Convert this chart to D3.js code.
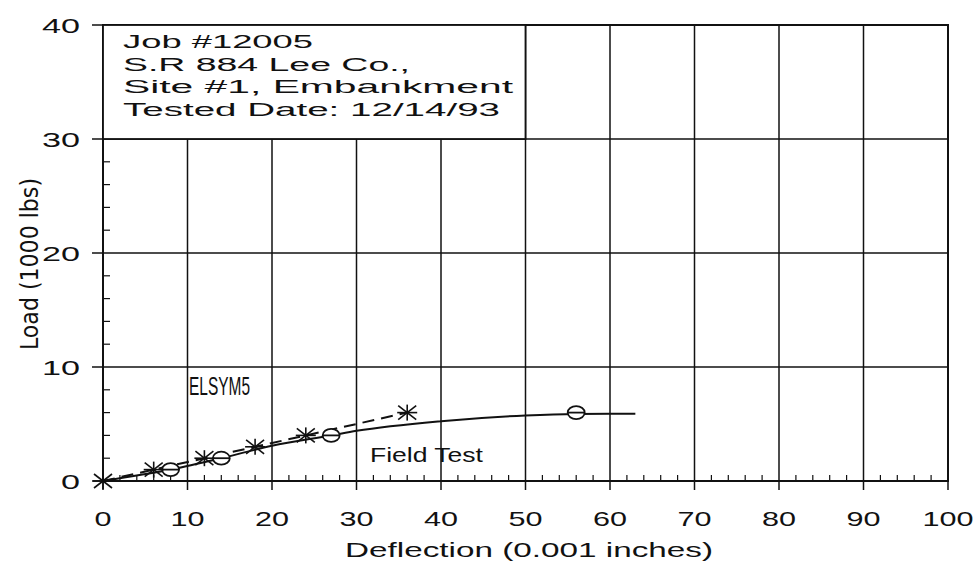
<!DOCTYPE html>
<html>
<head>
<meta charset="utf-8">
<script src="https://cdn.jsdelivr.net/npm/d3@7"></script>
<style>
  body { margin: 0; background: #fff; }
  svg { display: block; }
</style>
</head>
<body>
<div id="chart"></div>
<script>
  // ELSYM5 prediction (asterisks, dashed)
  var elsymX = [0, 6, 12, 18, 24, 36]
  var elsymY = [0, 1, 2, 3, 4, 6]

  // Field test points (circles)
  var fieldX = [8, 14, 27, 56]
  var fieldY = [1, 2, 4, 6]

  // Field test fitted curve (solid)
  var curveX = [0, 8, 14, 20, 27, 30, 40, 50, 56, 63]
  var curveY = [0, 1, 2, 3.1, 4, 4.4, 5.25, 5.75, 5.88, 5.9]

  var xTicks = [0, 10, 20, 30, 40, 50, 60, 70, 80, 90, 100]
  var yTicks = [0, 10, 20, 30, 40]

  var infoLines = ["Job #12005", "S.R 884 Lee Co.,", "Site #1, Embankment", "Tested Date: 12/14/93"]
  var infoWidths = [190, 287, 390, 377]

  var width = 974
  var height = 561

  var svg = d3.select("#chart")
    .append("svg")
    .attr("width", width)
    .attr("height", height)

  var x = d3.scaleLinear().domain([0, 100]).range([103, 948])
  var y = d3.scaleLinear().domain([0, 40]).range([481, 25])

  var wideFont = "'Liberation Sans', Arial, sans-serif"
  var narrowFont = "'Liberation Sans Narrow', 'DejaVu Sans Condensed', 'Liberation Sans', sans-serif"

  // minor ticks every 2 units
  var minorX = d3.range(0, 101, 2).filter(function (d) { return d % 10 != 0 })
  var minorY = d3.range(0, 41, 2).filter(function (d) { return d % 10 != 0 })

  // grid lines (extend outside the frame like ticks)
  svg.append("g")
    .selectAll("line")
    .data(xTicks)
    .enter()
    .append("line")
    .attr("x1", function (d) { return x(d) })
    .attr("x2", function (d) { return x(d) })
    .attr("y1", y(40))
    .attr("y2", y(0) + 9)
    .attr("stroke", "#111")
    .attr("stroke-width", 1.5)

  svg.append("g")
    .selectAll("line")
    .data(yTicks)
    .enter()
    .append("line")
    .attr("x1", x(0) - 11)
    .attr("x2", x(100))
    .attr("y1", function (d) { return y(d) })
    .attr("y2", function (d) { return y(d) })
    .attr("stroke", "#111")
    .attr("stroke-width", 1.5)

  // minor ticks, inside
  svg.append("g")
    .selectAll("line")
    .data(minorX)
    .enter()
    .append("line")
    .attr("x1", function (d) { return x(d) })
    .attr("x2", function (d) { return x(d) })
    .attr("y1", y(0))
    .attr("y2", y(0) - 6)
    .attr("stroke", "#111")
    .attr("stroke-width", 1.2)

  svg.append("g")
    .selectAll("line")
    .data(minorY)
    .enter()
    .append("line")
    .attr("x1", x(0))
    .attr("x2", x(0) + 7)
    .attr("y1", function (d) { return y(d) })
    .attr("y2", function (d) { return y(d) })
    .attr("stroke", "#111")
    .attr("stroke-width", 1.2)

  // frame
  svg.append("rect")
    .attr("x", x(0))
    .attr("y", y(40))
    .attr("width", x(100) - x(0))
    .attr("height", y(0) - y(40))
    .attr("fill", "none")
    .attr("stroke", "#111")
    .attr("stroke-width", 2)

  // info box
  svg.append("rect")
    .attr("x", x(0))
    .attr("y", y(40))
    .attr("width", x(50) - x(0))
    .attr("height", y(30) - y(40))
    .attr("fill", "#fff")
    .attr("stroke", "#111")
    .attr("stroke-width", 1.8)

  svg.append("g")
    .selectAll("text")
    .data(infoLines)
    .enter()
    .append("text")
    .attr("x", 123)
    .attr("y", function (d, i) { return 48 + i * 22.7 })
    .attr("textLength", function (d, i) { return infoWidths[i] })
    .attr("lengthAdjust", "spacingAndGlyphs")
    .style("font-family", wideFont)
    .style("font-size", "18px")
    .style("fill", "#111")
    .text(function (d) { return d })

  // tick labels
  svg.append("g")
    .selectAll("text")
    .data(xTicks)
    .enter()
    .append("text")
    .attr("x", function (d) { return x(d) })
    .attr("y", 526)
    .attr("text-anchor", "middle")
    .attr("textLength", function (d) { return String(d).length * 17 })
    .attr("lengthAdjust", "spacingAndGlyphs")
    .style("font-family", wideFont)
    .style("font-size", "21px")
    .style("fill", "#111")
    .text(function (d) { return d })

  svg.append("g")
    .selectAll("text")
    .data(yTicks)
    .enter()
    .append("text")
    .attr("x", 80)
    .attr("y", function (d) { return y(d) + 8 })
    .attr("text-anchor", "end")
    .attr("textLength", function (d) { return String(d).length * 19 })
    .attr("lengthAdjust", "spacingAndGlyphs")
    .style("font-family", wideFont)
    .style("font-size", "21px")
    .style("fill", "#111")
    .text(function (d) { return d })

  // axis titles
  svg.append("text")
    .attr("x", 529)
    .attr("y", 557)
    .attr("text-anchor", "middle")
    .attr("textLength", 368)
    .attr("lengthAdjust", "spacingAndGlyphs")
    .style("font-family", wideFont)
    .style("font-size", "21px")
    .style("fill", "#111")
    .text("Deflection (0.001 inches)")

  svg.append("text")
    .attr("transform", "translate(38,264) rotate(-90)")
    .attr("text-anchor", "middle")
    .attr("textLength", 172)
    .attr("lengthAdjust", "spacingAndGlyphs")
    .style("font-family", narrowFont)
    .style("font-size", "24px")
    .style("fill", "#111")
    .text("Load (1000 lbs)")

  // series labels
  svg.append("text")
    .attr("x", 189)
    .attr("y", 395)
    .attr("textLength", 61)
    .attr("lengthAdjust", "spacingAndGlyphs")
    .style("font-family", wideFont)
    .style("font-size", "25px")
    .style("fill", "#111")
    .text("ELSYM5")

  svg.append("text")
    .attr("x", 370)
    .attr("y", 462)
    .attr("textLength", 113)
    .attr("lengthAdjust", "spacingAndGlyphs")
    .style("font-family", wideFont)
    .style("font-size", "20px")
    .style("fill", "#111")
    .text("Field Test")

  // field test curve
  var curveData = curveX.map(function (d, i) { return [d, curveY[i]] })
  svg.append("path")
    .datum(curveData)
    .attr("fill", "none")
    .attr("stroke", "#111")
    .attr("stroke-width", 2)
    .attr("d", d3.line()
      .x(function (d) { return x(d[0]) })
      .y(function (d) { return y(d[1]) })
      .curve(d3.curveMonotoneX))

  // ELSYM5 dashed line
  var elsymData = elsymX.map(function (d, i) { return [d, elsymY[i]] })
  svg.append("path")
    .datum(elsymData)
    .attr("fill", "none")
    .attr("stroke", "#111")
    .attr("stroke-width", 2)
    .attr("stroke-dasharray", "12,7")
    .attr("d", d3.line()
      .x(function (d) { return x(d[0]) })
      .y(function (d) { return y(d[1]) }))

  // circle markers with a bar through them
  var circ = svg.append("g")
    .selectAll("g")
    .data(fieldX.map(function (d, i) { return [d, fieldY[i]] }))
    .enter()
    .append("g")
    .attr("transform", function (d) { return "translate(" + x(d[0]) + "," + y(d[1]) + ")" })
  circ.append("ellipse")
    .attr("rx", 8.5)
    .attr("ry", 6.5)
    .attr("fill", "#fff")
    .attr("stroke", "#111")
    .attr("stroke-width", 1.8)
  circ.append("line")
    .attr("x1", -8.5).attr("x2", 8.5)
    .attr("stroke", "#111")
    .attr("stroke-width", 1.8)

  // asterisk markers
  var star = svg.append("g")
    .selectAll("g")
    .data(elsymData)
    .enter()
    .append("g")
    .attr("transform", function (d) { return "translate(" + x(d[0]) + "," + y(d[1]) + ")" })
  var arms = [[-10, 0, 10, 0], [0, -8, 0, 8], [-9, -7, 9, 7], [-9, 7, 9, -7]]
  arms.forEach(function (a) {
    star.append("line")
      .attr("x1", a[0]).attr("y1", a[1])
      .attr("x2", a[2]).attr("y2", a[3])
      .attr("stroke", "#111")
      .attr("stroke-width", 1.6)
  })
</script>
</body>
</html>
